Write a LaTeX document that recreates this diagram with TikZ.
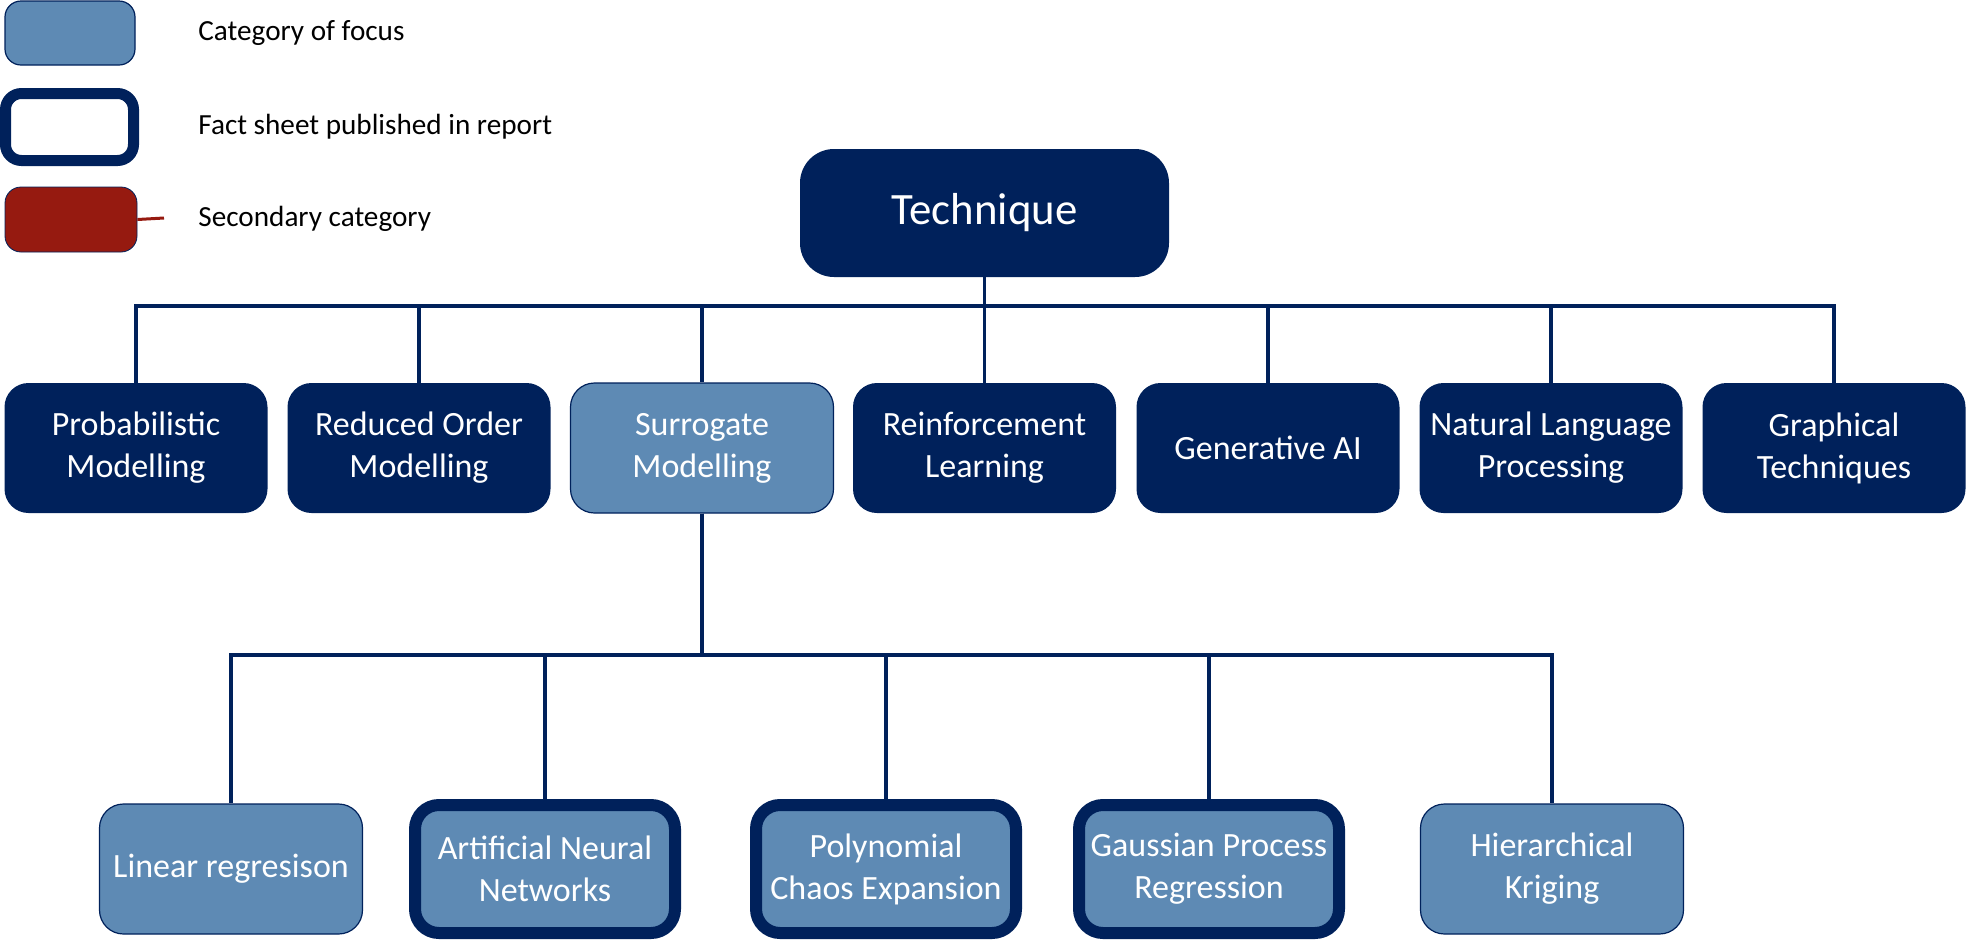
\documentclass[tikz,border=0pt]{standalone}
\usepackage{fontspec}
\setmainfont{Carlito}
\definecolor{navy}{RGB}{0,33,91}
\definecolor{focus}{RGB}{94,138,180}
\definecolor{secred}{RGB}{150,26,16}
\begin{document}
\begin{tikzpicture}[x=0.5pt,y=-0.5pt,
  box/.style={rounded corners=12pt, minimum width=131.5pt, minimum height=65pt,
    inner sep=0pt, align=center, text=white, font=\fontsize{17}{21}\selectfont},
  topbox/.style={box, fill=navy},
  focusbox/.style={box, fill=focus, draw=navy, line width=0.6pt},
  factbox/.style={focusbox, line width=6pt, minimum width=130pt, minimum height=64pt},
  link/.style={draw=navy, line width=1.75pt},
  legtext/.style={anchor=west, inner sep=0pt, font=\fontsize{14.6}{17}\selectfont},
]
\useasboundingbox (0,0) rectangle (1967,939);

% legend
\node[focusbox, rounded corners=8pt, minimum width=65pt, minimum height=32pt] (lgfocus) at (70,33) {};
\node[box, draw=navy, fill=white, line width=5.5pt, rounded corners=8pt, minimum width=64pt, minimum height=33.5pt] (lgfact) at (69.5,127) {};
\node[box, fill=secred, draw=navy, line width=0.4pt, rounded corners=8pt, minimum width=66pt, minimum height=32.5pt] (lgsec) at (71,219.5) {};
\coordinate (lgsecend) at (164,218);
\draw[secred, line width=1.5pt] (lgsec.east) -- (lgsecend);
\node[legtext] (tfocus) at (198,33) {Category of focus};
\node[legtext] (tfact) at (198,127) {Fact sheet published in report};
\node[legtext] (tsec) at (198,219) {Secondary category};

% root
\node[topbox, rounded corners=17pt, minimum width=184.5pt, minimum height=64pt,
  font=\fontsize{22.4}{26}\selectfont] (tech) at (984.5,213) {Technique};

% first level
\node[topbox]   (prob) at (136,448)  {Probabilistic\\Modelling};
\node[topbox]   (rom)  at (419,448)  {Reduced Order\\Modelling};
\node[focusbox] (sur)  at (702,448)  {Surrogate\\Modelling};
\node[topbox]   (rl)   at (984.5,448) {Reinforcement\\Learning};
\node[topbox]   (gen)  at (1268,448) {Generative AI};
\node[topbox]   (nlp)  at (1551,448) {Natural Language\\Processing};
\node[topbox]   (graph) at (1834,448) {Graphical\\Techniques};

% second level under surrogate modelling
\node[focusbox] (lin) at (231,869)  {Linear regresison};
\node[factbox]  (ann) at (545,869)  {Artificial Neural\\Networks};
\node[factbox]  (pce) at (886,869)  {Polynomial\\Chaos Expansion};
\node[factbox]  (gpr) at (1209,869) {Gaussian Process\\Regression};
\node[focusbox] (hk)  at (1552,869) {Hierarchical\\Kriging};

% connectors
\coordinate (busA) at (0,306);
\coordinate (busB) at (0,655);
\foreach \n in {prob,rom,sur,rl,gen,nlp,graph}
  \draw[link] (tech.south) -- (tech.south |- busA) -| (\n.north);
\foreach \n in {lin,ann,pce,gpr,hk}
  \draw[link] (sur.south) -- (sur.south |- busB) -| (\n.north);
\end{tikzpicture}
\end{document}
